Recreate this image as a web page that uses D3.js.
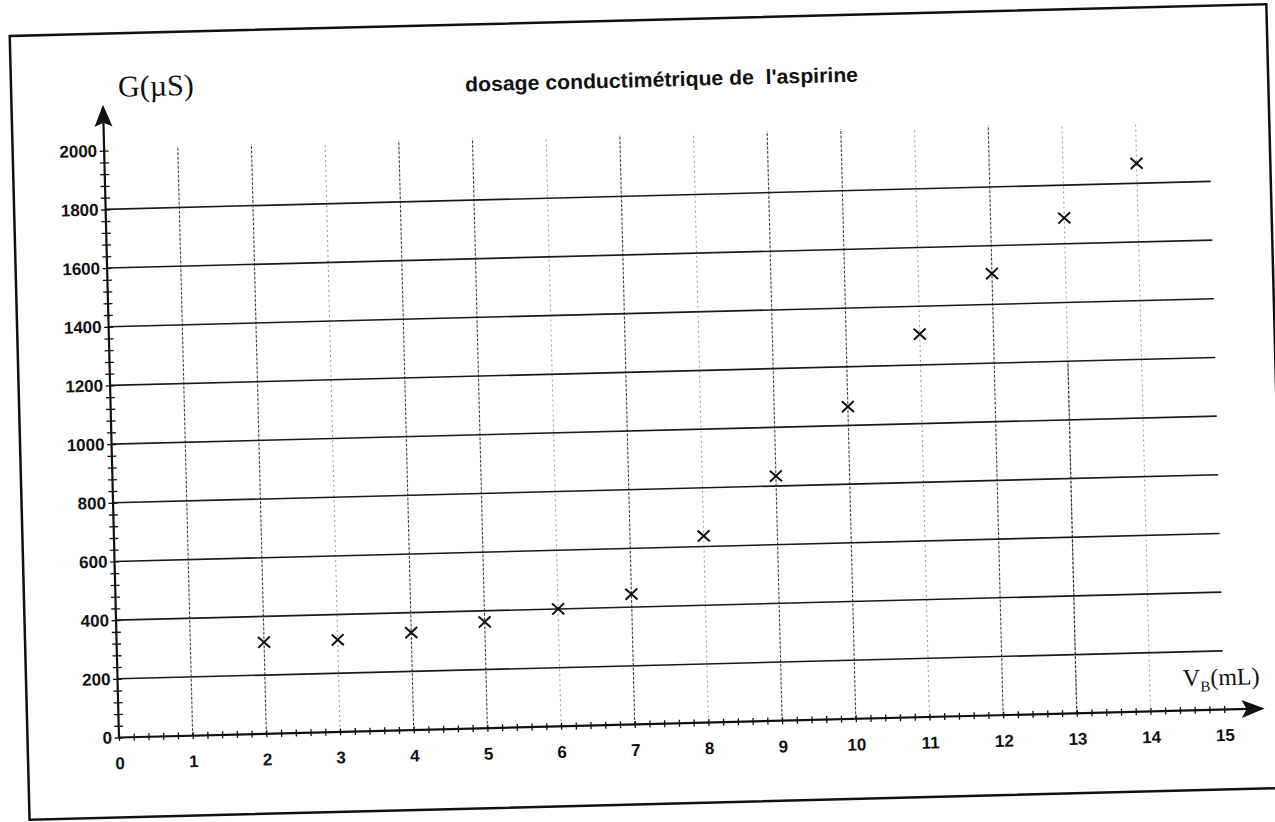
<!DOCTYPE html>
<html><head><meta charset="utf-8">
<script src="https://cdn.jsdelivr.net/npm/d3@7"></script>
<style>html,body{margin:0;padding:0;background:#fff;overflow:hidden}svg{display:block}</style>
</head><body>
<svg id="c" width="1275" height="822"></svg>
<script>
// ---- data ----
const volumes = [2, 3, 4, 5, 6, 7, 8, 9, 10, 11, 12, 13, 14];
const conductance = [312, 314, 332, 362, 400, 444, 636, 834, 1064, 1305, 1505, 1688, 1868];
const xTickValues = [0, 1, 2, 3, 4, 5, 6, 7, 8, 9, 10, 11, 12, 13, 14, 15];
const yTickValues = [0, 200, 400, 600, 800, 1000, 1200, 1400, 1600, 1800, 2000];
const hGridValues = [200, 400, 600, 800, 1000, 1200, 1400, 1600, 1800];
const vGridStrong = [1, 2, 4, 5, 7, 9, 10, 12];
const vGridFaint = [3, 6, 8, 11, 13, 14];
const vGridPartial = [13];
const vGridPartialTop = [1200];
const titleText = "dosage conductimétrique de  l'aspirine";
const yLabel = "G(µS)";
const xLabelMain = "V", xLabelSub = "B", xLabelUnit = "(mL)";

// ---- layout ----
const ox = 119, oy = 737.5, angle = -1.45;
const svg = d3.select("#c");
svg.append("rect").attr("width", 1275).attr("height", 822).attr("fill", "#fff");
const g = svg.append("g").attr("transform", `translate(${ox},${oy}) rotate(${angle})`);

const x = d3.scaleLinear().domain([0, 15]).range([0, 1105.5]);
const y = d3.scaleLinear().domain([0, 2000]).range([0, -587]);

// frame
g.append("rect").attr("x", -91.5).attr("y", -704).attr("width", 1257).attr("height", 784)
  .attr("fill", "none").attr("stroke", "#111").attr("stroke-width", 2.5);

// vertical grid
g.selectAll("line.vf").data(vGridFaint).join("line").attr("class", "vf")
  .attr("x1", d => x(d)).attr("x2", d => x(d)).attr("y1", y(0)).attr("y2", y(2010))
  .attr("stroke", "#9a9a9a").attr("stroke-width", 1).attr("stroke-dasharray", "2,3");
g.selectAll("line.vs").data(vGridStrong).join("line").attr("class", "vs")
  .attr("x1", d => x(d)).attr("x2", d => x(d)).attr("y1", y(0)).attr("y2", y(2010))
  .attr("stroke", "#444").attr("stroke-width", 1.1).attr("stroke-dasharray", "3,1.5");
g.selectAll("line.vp").data(vGridPartial).join("line").attr("class", "vp")
  .attr("x1", d => x(d)).attr("x2", d => x(d)).attr("y1", y(0)).attr("y2", (d, i) => y(vGridPartialTop[i]))
  .attr("stroke", "#333").attr("stroke-width", 1.2).attr("stroke-dasharray", "3,1.5");

// horizontal grid
g.selectAll("line.h").data(hGridValues).join("line").attr("class", "h")
  .attr("x1", x(0)).attr("x2", x(15)).attr("y1", d => y(d)).attr("y2", d => y(d))
  .attr("stroke", "#1a1a1a").attr("stroke-width", 1.6);

// minor ticks (crossing)
const xMinor = d3.range(0, 15.0001, 0.2);
const yMinor = d3.range(0, 2000.001, 40);
function tickAxis(axis) {
  const a = g.append("g").call(axis);
  a.select(".domain").remove();
  a.selectAll("line").attr("stroke", "#111").attr("stroke-width", 1.3);
  return a;
}
tickAxis(d3.axisBottom(x).tickValues(xMinor).tickSize(3.5).tickFormat(""));
tickAxis(d3.axisTop(x).tickValues(xMinor).tickSize(3.5).tickFormat(""));
tickAxis(d3.axisLeft(y).tickValues(yMinor).tickSize(4.5).tickFormat(""));
tickAxis(d3.axisRight(y).tickValues(yMinor).tickSize(4.5).tickFormat(""));

// axis lines
g.append("line").attr("x1", x(0)).attr("x2", 1130).attr("y1", 0).attr("y2", 0)
  .attr("stroke", "#111").attr("stroke-width", 2.2);
g.append("line").attr("x1", 0).attr("x2", 0).attr("y1", y(0)).attr("y2", -618)
  .attr("stroke", "#111").attr("stroke-width", 2.2);
// arrowheads
g.append("path").attr("d", "M1146,0 L1123,-9 L1128,0 L1123,9 Z").attr("fill", "#111");
g.append("path").attr("d", "M0,-633 L-9,-611 L0,-615 L9,-611 Z").attr("fill", "#111");

// tick labels
const xl = g.append("g").call(d3.axisBottom(x).tickValues(xTickValues).tickSize(0).tickPadding(19.5).tickFormat(d3.format("d")));
xl.select(".domain").remove();
xl.selectAll("text").attr("font-family", "'Liberation Sans', Arial, sans-serif").attr("font-weight", "bold")
  .attr("font-size", 17).attr("fill", "#111");
const yl = g.append("g").call(d3.axisLeft(y).tickValues(yTickValues).tickSize(0).tickPadding(7).tickFormat(d3.format("d")));
yl.select(".domain").remove();
yl.selectAll("text").attr("font-family", "'Liberation Sans', Arial, sans-serif").attr("font-weight", "bold")
  .attr("font-size", 17).attr("fill", "#111");

// markers
g.selectAll("path.pt").data(volumes).join("path").attr("class", "pt")
  .attr("transform", (d, i) => `translate(${x(d)},${y(conductance[i])})`)
  .attr("d", "M-6,-5.5 L6,5.5 M6,-5.5 L-6,5.5")
  .attr("stroke", "#111").attr("stroke-width", 2).attr("fill", "none");

// labels
g.append("text").attr("x", 15.5).attr("y", -640.5)
  .attr("font-family", "'Liberation Serif', 'Times New Roman', serif").attr("font-size", 30).attr("fill", "#111")
  .text(yLabel);
const xt = g.append("text").attr("x", 1065).attr("y", -24.5)
  .attr("font-family", "'Liberation Serif', 'Times New Roman', serif").attr("font-size", 24).attr("fill", "#111");
xt.append("tspan").text(xLabelMain);
xt.append("tspan").attr("font-size", 15).attr("dy", 6).text(xLabelSub);
xt.append("tspan").attr("dy", -6).text(xLabelUnit);
g.append("text").attr("x", 559).attr("y", -637).attr("text-anchor", "middle")
  .attr("font-family", "'Liberation Sans', Arial, sans-serif").attr("font-weight", "bold").attr("font-size", 20.5)
  .attr("fill", "#111").style("white-space", "pre")
  .attr("textLength", 393).attr("lengthAdjust", "spacingAndGlyphs")
  .text(titleText);
</script>
</body></html>
